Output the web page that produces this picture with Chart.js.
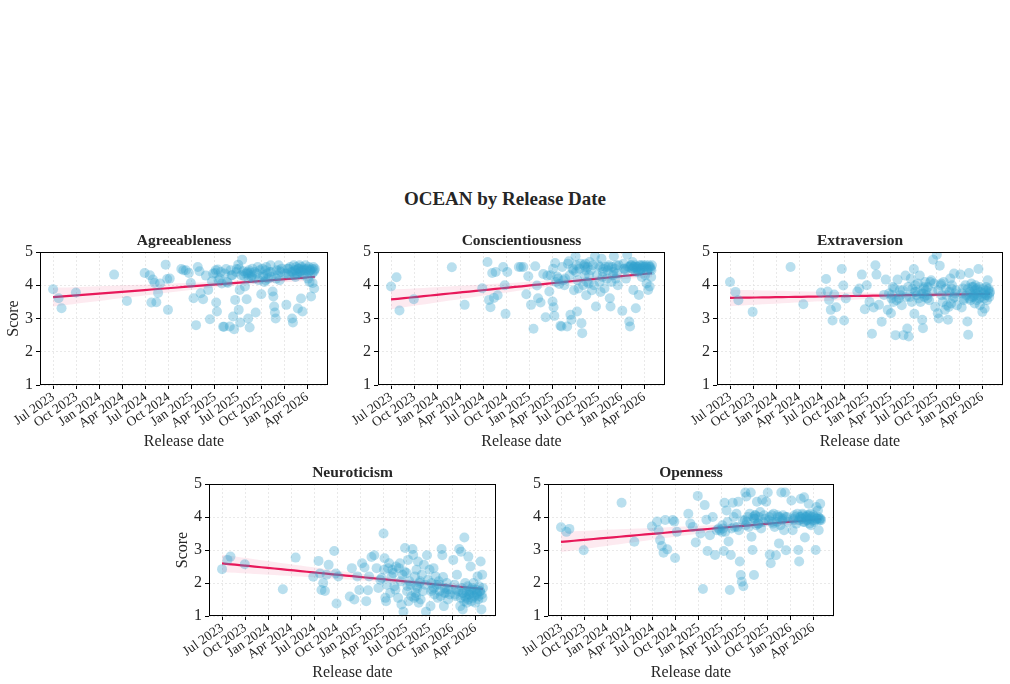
<!DOCTYPE html>
<html>
<head>
<meta charset="utf-8">
<script src="https://cdn.jsdelivr.net/npm/chart.js@4.4.1/dist/chart.umd.min.js"></script>
<style>
    html, body { margin: 0; padding: 0; background: #fff; width: 1010px; height: 684px; overflow: hidden; }
    #title { position: absolute; left: 0; top: 188px; width: 1010px; text-align: center;
             font: bold 19px "Liberation Serif", "Times New Roman", serif; color: #262626; }
    canvas { position: absolute; }
</style>
</head>
<body>
<div id="title">OCEAN by Release Date</div>
<script>
const traits = ['Agreeableness', 'Conscientiousness', 'Extraversion', 'Neuroticism', 'Openness'];
const tickLabels = ['Jul 2023', 'Oct 2023', 'Jan 2024', 'Apr 2024', 'Jul 2024', 'Oct 2024',
    'Jan 2025', 'Apr 2025', 'Jul 2025', 'Oct 2025', 'Jan 2026', 'Apr 2026'];
const scoreTicks = [1, 2, 3, 4, 5];

const releaseDates = [
    '2023-06-30', '2023-07-22', '2023-08-03', '2023-09-29', '2024-02-27', '2024-04-18', '2024-06-27',
    '2024-07-18', '2024-07-24', '2024-07-30', '2024-08-06', '2024-08-13', '2024-08-20', '2024-08-28',
    '2024-09-19', '2024-09-25', '2024-09-28', '2024-11-20', '2024-12-08', '2024-12-20', '2024-12-28',
    '2025-01-08', '2025-01-18', '2025-01-25', '2025-02-01', '2025-02-05', '2025-02-14', '2025-02-24',
    '2025-03-05', '2025-03-12', '2025-03-20', '2025-04-02', '2025-04-06', '2025-04-09', '2025-04-12',
    '2025-04-20', '2025-04-28', '2025-05-03', '2025-05-07', '2025-05-15', '2025-05-22', '2025-05-30',
    '2025-06-06', '2025-06-12', '2025-06-16', '2025-06-20', '2025-06-26', '2025-07-02', '2025-07-04',
    '2025-07-08', '2025-07-10', '2025-07-14', '2025-07-18', '2025-07-22', '2025-07-26', '2025-07-29',
    '2025-08-02', '2025-08-05', '2025-08-08', '2025-08-11', '2025-08-14', '2025-08-17', '2025-08-20',
    '2025-08-24', '2025-08-28', '2025-09-02', '2025-09-06', '2025-09-10', '2025-09-14', '2025-09-18',
    '2025-09-22', '2025-09-26', '2025-10-02', '2025-10-06', '2025-10-10', '2025-10-14', '2025-10-18',
    '2025-10-22', '2025-10-26', '2025-10-30', '2025-11-04', '2025-11-08', '2025-11-12', '2025-11-16',
    '2025-11-19', '2025-11-22', '2025-11-25', '2025-11-28', '2025-12-02', '2025-12-06', '2025-12-10',
    '2025-12-14', '2025-12-18', '2025-12-22', '2026-01-05', '2026-01-10', '2026-01-15', '2026-01-20',
    '2026-01-25', '2026-01-29', '2026-02-02', '2026-02-05', '2026-02-08', '2026-02-11', '2026-02-14',
    '2026-02-17', '2026-02-20', '2026-02-23', '2026-02-26', '2026-03-01', '2026-03-04', '2026-03-07',
    '2026-03-10', '2026-03-13', '2026-03-16', '2026-03-19', '2026-03-22', '2026-03-25', '2026-03-28',
    '2026-04-01', '2026-04-04', '2026-04-07', '2026-04-10', '2026-04-13', '2026-04-16', '2026-04-19',
    '2026-04-22', '2026-04-25', '2026-04-28', '2026-05-01',
    '2025-08-09', '2025-08-12', '2025-08-26', '2025-10-08', '2025-10-20', '2025-11-10', '2025-11-30',
    '2025-12-12', '2026-01-12', '2026-01-18', '2026-02-04', '2026-02-10', '2026-02-16', '2026-02-19',
    '2026-02-25', '2026-03-03', '2026-03-09', '2026-03-15', '2026-03-21', '2026-04-08', '2026-04-14',
    '2026-04-20', '2026-04-26', '2026-04-29',
    '2025-03-25', '2025-04-04', '2025-04-15', '2025-04-24', '2025-05-10', '2025-05-19', '2025-06-02',
    '2025-06-09', '2025-06-24', '2025-07-06', '2024-10-05', '2024-11-28'
];

const agreeableness = [
    3.88, 3.61, 3.31, 3.78, 4.32, 3.53, 4.37, 4.30, 3.48, 4.17, 4.07, 3.49, 3.77, 4.05,
    4.62, 4.19, 3.26, 4.49, 4.45, 4.37, 4.07, 3.61, 2.80, 4.55, 4.42, 3.76, 3.58, 4.29,
    3.86, 2.98, 4.12, 4.37, 3.48, 3.21, 4.47, 4.20, 4.05, 2.75, 2.75, 4.49, 4.07, 2.76,
    4.30, 3.06, 2.68, 3.56, 4.49, 4.62, 3.26, 3.86, 2.88, 4.30, 4.77, 4.42, 4.27, 3.96,
    4.35, 3.58, 4.40, 3.00, 4.45, 2.73, 4.38, 4.25, 4.50, 4.20, 4.40, 3.18, 4.35, 4.55,
    4.15, 4.45, 3.73, 4.50, 4.30, 4.10, 4.45, 4.55, 4.35, 4.20, 4.40, 4.60, 4.25, 3.81,
    3.66, 3.36, 3.18, 3.00, 4.45, 4.30, 4.60, 4.15, 4.40, 4.50, 4.35, 3.41, 4.50, 4.30,
    4.55, 4.40, 3.00, 2.88, 4.60, 4.45, 4.25, 4.55, 4.35, 3.30, 4.50, 4.60, 4.40, 3.60,
    4.55, 3.21, 4.45, 4.50, 4.35, 4.60, 4.45, 4.50, 4.20, 4.55, 4.10, 4.45, 3.66, 4.50,
    4.07, 4.55, 3.90, 4.50,
    4.35, 4.20, 4.30, 4.25, 4.15, 4.40, 4.20, 4.45, 4.35, 4.50, 4.40, 4.30, 4.45, 4.35,
    4.50, 4.40, 4.45, 4.30, 4.45, 4.40, 4.45, 4.35, 4.40, 4.45,
    4.35, 4.45, 4.15, 4.40, 4.35, 4.10, 4.45, 4.30, 4.40, 4.50, 4.20, 4.45
];

const conscientiousness = [
    3.96, 4.24, 3.24, 3.58, 4.54, 3.41, 3.91, 4.70, 3.56, 3.34, 4.37, 3.62, 4.40, 3.70,
    4.55, 4.00, 3.14, 4.55, 4.55, 3.73, 4.27, 3.41, 2.69, 4.57, 3.99, 3.61, 3.48, 4.34,
    3.04, 4.29, 3.81, 3.51, 3.34, 3.08, 4.67, 4.26, 4.04, 2.78, 2.76, 4.15, 4.20, 2.76,
    4.72, 3.11, 2.96, 4.50, 3.85, 4.87, 4.40, 3.21, 4.15, 3.90, 4.50, 4.65, 2.86, 2.56,
    4.00, 4.60, 4.30, 4.65, 3.70, 4.10, 4.55, 4.05, 4.70, 4.45, 3.85, 4.60, 4.00, 4.87,
    3.36, 4.30, 4.60, 4.10, 3.80, 4.80, 4.25, 4.50, 3.90, 4.55, 4.20, 4.45, 4.60, 3.61,
    3.36, 4.10, 4.55, 4.30, 4.87, 4.50, 4.20, 4.35, 4.00, 4.60, 3.23, 4.65, 4.50, 4.20,
    4.92, 4.55, 2.91, 2.76, 4.60, 4.50, 4.70, 3.86, 4.55, 4.60, 3.31, 4.50, 4.55, 4.40,
    3.71, 4.60, 4.45, 4.60, 4.25, 4.55, 4.60, 4.55, 4.30, 4.60, 4.05, 4.50, 3.86, 4.60,
    3.96, 4.55, 4.25, 4.60,
    4.55, 4.45, 4.30, 4.55, 4.40, 4.55, 4.40, 4.60, 4.50, 4.45, 4.55, 4.60, 4.50, 4.55,
    4.40, 4.55, 4.45, 4.50, 4.50, 4.55, 4.45, 4.55, 4.50, 4.45,
    4.30, 4.50, 4.10, 4.20, 4.55, 4.00, 4.65, 4.30, 4.45, 4.60, 4.40, 4.55
];

const extraversion = [
    4.10, 3.80, 3.55, 3.20, 4.55, 3.43, 3.78, 4.19, 3.81, 3.56, 3.26, 2.94, 3.72, 3.34,
    4.49, 3.99, 2.94, 3.81, 4.32, 3.28, 4.00, 3.50, 2.54, 3.33, 4.60, 4.32, 3.41, 2.90,
    3.71, 4.17, 3.26, 3.16, 3.71, 3.95, 3.50, 2.50, 4.17, 3.60, 3.85, 3.40, 2.50, 4.29,
    2.70, 2.46, 3.65, 4.20, 3.90, 4.49, 3.14, 4.00, 3.80, 3.70, 4.05, 3.60, 4.29, 3.50,
    3.75, 2.96, 2.71, 3.90, 3.65, 4.10, 3.85, 3.70, 3.95, 3.55, 4.10, 4.15, 3.80, 4.77,
    4.05, 3.35, 4.92, 3.16, 3.00, 4.59, 4.00, 3.70, 3.50, 4.10, 3.26, 3.90, 3.40, 2.96,
    3.35, 3.80, 4.20, 3.45, 4.00, 3.60, 4.35, 3.75, 3.85, 3.40, 4.32, 3.33, 3.90, 3.60,
    4.00, 3.70, 2.91, 2.51, 4.37, 3.80, 3.55, 4.05, 3.65, 3.95, 3.70, 3.45, 4.00, 3.75,
    3.90, 3.85, 4.49, 3.60, 3.40, 3.80, 3.65, 3.20, 3.90, 3.75, 3.30, 3.70, 3.95, 3.55,
    4.15, 3.85, 3.65, 3.80,
    3.75, 3.95, 3.60, 3.85, 4.05, 3.70, 3.90, 3.65, 3.75, 3.55, 3.90, 3.60, 3.75, 3.95,
    3.65, 3.85, 3.55, 3.70, 3.95, 3.60, 3.85, 3.70, 3.90, 3.75,
    3.75, 3.60, 3.90, 3.55, 3.70, 3.85, 3.65, 3.95, 3.50, 3.80, 3.60, 3.90
];

const neuroticism = [
    2.42, 2.70, 2.80, 2.57, 1.81, 2.77, 2.19, 2.67, 2.29, 1.79, 2.00, 1.76, 2.25, 2.55,
    2.97, 2.29, 1.38, 1.59, 1.50, 2.20, 1.79, 2.60, 2.47, 1.45, 1.78, 2.20, 2.79, 2.84,
    2.45, 1.85, 2.10, 3.50, 2.75, 1.55, 1.45, 2.45, 1.70, 2.20, 2.40, 1.90, 2.50, 1.55,
    2.60, 1.35, 2.25, 1.13, 3.06, 2.30, 1.75, 2.70, 1.45, 2.05, 1.95, 1.60, 3.03, 2.85,
    1.55, 2.20, 1.70, 2.40, 1.85, 2.65, 1.40, 2.00, 1.50, 2.25, 1.75, 2.55, 1.95, 1.13,
    2.84, 2.10, 2.40, 1.30, 2.00, 1.80, 2.45, 1.65, 2.20, 1.95, 1.55, 2.05, 1.75, 1.60,
    3.03, 2.84, 2.18, 1.30, 1.85, 1.70, 2.00, 1.50, 1.80, 1.65, 2.70, 1.95, 1.60, 2.25,
    1.75, 3.03, 1.30, 2.95, 1.85, 1.20, 1.70, 3.38, 2.00, 1.55, 1.40, 1.90, 2.80, 1.65,
    1.75, 2.50, 1.45, 1.85, 1.70, 2.00, 1.60, 1.40, 1.80, 1.65, 2.20, 1.50, 1.90, 1.75,
    2.65, 1.20, 2.25, 1.85,
    1.60, 1.90, 2.05, 1.75, 1.85, 1.95, 1.70, 1.80, 1.65, 1.80, 1.55, 1.70, 1.45, 1.60,
    1.75, 1.50, 1.65, 1.80, 1.55, 1.70, 1.60, 1.75, 1.65, 1.55,
    2.15, 2.40, 1.95, 2.60, 2.30, 1.80, 2.45, 2.05, 2.35, 1.90, 2.20, 2.45
];

const openness = [
    3.69, 3.55, 3.64, 2.99, 4.43, 3.25, 3.71, 3.86, 3.60, 3.30, 3.12, 2.92, 3.91, 3.02,
    3.91, 3.86, 2.76, 4.10, 3.70, 3.23, 4.64, 3.50, 1.82, 4.36, 3.92, 2.97, 3.45, 4.00,
    2.85, 3.60, 3.65, 3.55, 3.65, 2.97, 4.43, 4.20, 3.26, 1.79, 2.85, 4.43, 3.70, 4.10,
    4.46, 2.65, 2.24, 2.04, 1.90, 3.90, 4.74, 4.62, 3.85, 4.00, 3.70, 4.10, 4.74, 3.40,
    3.00, 4.00, 2.24, 3.95, 4.05, 3.75, 4.46, 3.80, 4.00, 4.15, 3.65, 4.52, 3.85, 4.05,
    3.95, 4.46, 4.74, 3.90, 2.86, 2.60, 4.05, 3.80, 4.10, 3.70, 2.84, 3.85, 4.00, 3.20,
    4.00, 3.75, 4.74, 3.90, 4.05, 3.60, 4.74, 2.99, 4.00, 3.85, 4.50, 3.60, 3.90, 4.00,
    3.80, 4.10, 3.00, 2.65, 4.00, 4.55, 3.95, 4.10, 3.85, 4.60, 3.38, 4.00, 3.90, 4.05,
    3.95, 4.40, 3.80, 4.10, 3.75, 4.00, 3.90, 4.05, 3.85, 4.00, 3.00, 4.30, 3.95, 4.20,
    3.60, 3.95, 4.40, 3.90,
    3.95, 4.05, 3.80, 4.00, 3.85, 4.05, 3.95, 4.00, 3.95, 4.05, 3.90, 4.00, 3.95, 4.05,
    3.85, 4.00, 3.90, 4.05, 3.95, 3.90, 3.95, 4.00, 3.90, 3.95,
    3.60, 3.75, 3.55, 3.85, 3.65, 4.00, 3.70, 3.60, 3.90, 3.75, 3.55, 3.80
];

const traitScores = [agreeableness, conscientiousness, extraversion, neuroticism, openness];

// plot-area boxes of the five panels (left, top, width, height)
const panelBoxes = [
    [40, 252, 288, 133],
    [378, 252, 287, 133],
    [717, 252, 286, 133],
    [209, 484, 287, 132],
    [548, 484, 286, 132]
];
const Y_W = 40, PAD_TOP = 24, X_H = 75, PAD_RIGHT = 8;
const FONT = '"Liberation Serif", "Times New Roman", serif';
const TEXT = '#262626';

// months since Jul 2023
function toMonth(s) {
    const p = s.split('-').map(Number);
    const dim = new Date(p[0], p[1], 0).getDate();
    return (p[0] - 2023) * 12 + (p[1] - 7) + (p[2] - 1) / dim;
}
const xs = releaseDates.map(toMonth);
const xLo = Math.min(...xs), xHi = Math.max(...xs);
const xMin = xLo - 0.05 * (xHi - xLo), xMax = xHi + 0.05 * (xHi - xLo);

function regression(x, y) {
    const n = x.length;
    const mx = x.reduce((a, b) => a + b, 0) / n;
    const my = y.reduce((a, b) => a + b, 0) / n;
    let sxx = 0, sxy = 0;
    for (let i = 0; i < n; i++) {
        sxx += (x[i] - mx) * (x[i] - mx);
        sxy += (x[i] - mx) * (y[i] - my);
    }
    const b = sxy / sxx, a = my - b * mx;
    let sse = 0;
    for (let i = 0; i < n; i++) sse += Math.pow(y[i] - a - b * x[i], 2);
    const s = Math.sqrt(sse / (n - 2));
    return {a, b, s, n, mx, sxx};
}

const framePlugin = {
    id: 'frame',
    afterDatasetsDraw(chart) {
        const {ctx, chartArea: ca} = chart;
        ctx.save();
        ctx.strokeStyle = '#000';
        ctx.lineWidth = 1;
        ctx.strokeRect(Math.round(ca.left) + 0.5, Math.round(ca.top) + 0.5,
            Math.round(ca.right - ca.left) - 1, Math.round(ca.bottom - ca.top) - 1);
        ctx.restore();
    },
    afterDraw(chart) {
        const {ctx, chartArea: ca} = chart;
        ctx.save();
        ctx.font = 'bold 15.5px ' + FONT;
        ctx.fillStyle = TEXT;
        ctx.textAlign = 'center';
        ctx.textBaseline = 'alphabetic';
        ctx.fillText(chart.options.plugins.panelTitle, (ca.left + ca.right) / 2, ca.top - 7);
        ctx.restore();
    }
};

traits.forEach(function (trait, k) {
    const box = panelBoxes[k];
    const canvas = document.createElement('canvas');
    canvas.width = box[2] + Y_W + PAD_RIGHT;
    canvas.height = box[3] + PAD_TOP + X_H;
    canvas.style.left = (box[0] - Y_W) + 'px';
    canvas.style.top = (box[1] - PAD_TOP) + 'px';
    document.body.appendChild(canvas);

    const ys = traitScores[k];
    const fit = regression(xs, ys);
    const upper = [], lower = [], line = [];
    const steps = 40;
    for (let i = 0; i <= steps; i++) {
        const x = xLo + (xHi - xLo) * i / steps;
        const yhat = fit.a + fit.b * x;
        const se = fit.s * Math.sqrt(1 / fit.n + Math.pow(x - fit.mx, 2) / fit.sxx);
        line.push({x: x, y: yhat});
        upper.push({x: x, y: yhat + 1.97 * se});
        lower.push({x: x, y: yhat - 1.97 * se});
    }
    const points = xs.map((x, i) => ({x: x, y: ys[i]}));

    new Chart(canvas, {
        type: 'scatter',
        data: {
            datasets: [
                {
                    data: points, order: 0,
                    backgroundColor: 'rgba(50,160,205,0.34)', borderWidth: 0,
                    pointRadius: 5, pointHoverRadius: 5
                },
                {
                    type: 'line', data: line, order: 1,
                    borderColor: '#e8185a', borderWidth: 2.2, pointRadius: 0, fill: false
                },
                {
                    type: 'line', data: upper, order: 2,
                    borderWidth: 0, pointRadius: 0, backgroundColor: 'rgba(232,24,90,0.09)', fill: '+1'
                },
                {
                    type: 'line', data: lower, order: 2,
                    borderWidth: 0, pointRadius: 0, fill: false
                }
            ]
        },
        options: {
            responsive: false,
            animation: false,
            devicePixelRatio: 1,
            layout: {padding: {top: PAD_TOP, right: PAD_RIGHT, left: 0, bottom: 0}},
            plugins: {
                legend: {display: false},
                tooltip: {enabled: false},
                panelTitle: trait
            },
            scales: {
                x: {
                    type: 'linear', min: xMin, max: xMax,
                    afterBuildTicks: function (scale) {
                        scale.ticks = tickLabels.map((l, i) => ({value: i * 3}));
                    },
                    afterFit: function (scale) { scale.height = X_H; },
                    ticks: {
                        autoSkip: false, minRotation: 35, maxRotation: 35, padding: 0,
                        color: TEXT, font: {family: FONT, size: 13.5},
                        callback: (v, i) => tickLabels[i]
                    },
                    grid: {
                        color: '#e4e4e4', lineWidth: 0.8, tickLength: 4,
                        tickColor: '#000', tickWidth: 1, tickBorderDash: []
                    },
                    border: {display: false, dash: [2, 2]},
                    title: {
                        display: true, text: 'Release date', color: TEXT,
                        font: {family: FONT, size: 16}, padding: {top: 0, bottom: 9}
                    }
                },
                y: {
                    min: 1, max: 5,
                    afterBuildTicks: function (scale) {
                        scale.ticks = scoreTicks.map(v => ({value: v}));
                    },
                    afterFit: function (scale) { scale.width = Y_W; },
                    ticks: {
                        padding: 3, color: TEXT, font: {family: FONT, size: 16}
                    },
                    grid: {
                        color: '#e4e4e4', lineWidth: 0.8, tickLength: 4,
                        tickColor: '#000', tickWidth: 1, tickBorderDash: []
                    },
                    border: {display: false, dash: [2, 2]},
                    title: {
                        display: k === 0 || k === 3, text: 'Score', color: TEXT,
                        font: {family: FONT, size: 16}, padding: {top: 4, bottom: 0}
                    }
                }
            }
        },
        plugins: [framePlugin]
    });
});
</script>
</body>
</html>
